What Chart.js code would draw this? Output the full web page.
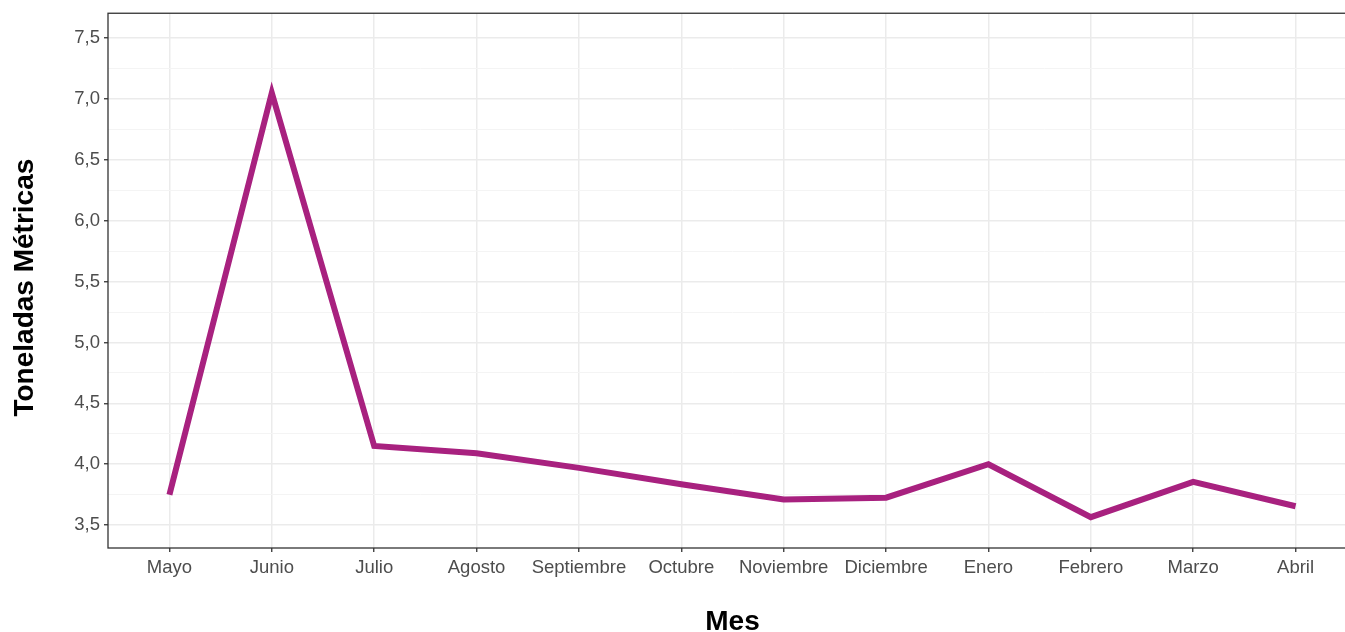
<!DOCTYPE html>
<html>
<head>
<meta charset="utf-8">
<script src="https://cdn.jsdelivr.net/npm/chart.js@4.4.1/dist/chart.umd.min.js"></script>
<style>
  html, body { margin: 0; padding: 0; background: #fff; overflow: hidden; width: 1345px; height: 632px; }
  #wrap { position: absolute; left: 0; top: 0; width: 1358px; height: 632px; }
</style>
</head>
<body>
<div id="wrap"><canvas id="c"></canvas></div>
<script>
const categories = ["Mayo", "Junio", "Julio", "Agosto", "Septiembre", "Octubre", "Noviembre", "Diciembre", "Enero", "Febrero", "Marzo", "Abril"];
const toneladas = [3.75, 7.05, 4.15, 4.09, 3.97, 3.835, 3.71, 3.725, 4.0, 3.565, 3.855, 3.655];
const yTicks = [3.5, 3.75, 4.0, 4.25, 4.5, 4.75, 5.0, 5.25, 5.5, 5.75, 6.0, 6.25, 6.5, 6.75, 7.0, 7.25, 7.5];
const xTitle = "Mes";
const yTitle = "Toneladas Métricas";

const isMajor = v => Math.abs(v * 2 - Math.round(v * 2)) < 1e-6;

const panelPlugin = {
  id: 'panel',
  afterDraw(chart) {
    const { ctx, chartArea: a } = chart;
    ctx.save();
    ctx.strokeStyle = '#333333';
    ctx.lineWidth = 1.3;
    ctx.strokeRect(a.left, a.top, a.right - a.left, a.bottom - a.top);
    ctx.fillStyle = '#000000';
    ctx.font = 'bold 28px "Liberation Sans", Arial, sans-serif';
    ctx.textAlign = 'center';
    ctx.textBaseline = 'alphabetic';
    ctx.fillText(xTitle, (a.left + a.right) / 2, 630);
    ctx.translate(33, (a.top + a.bottom) / 2 + 7);
    ctx.rotate(-Math.PI / 2);
    ctx.fillText(yTitle, 0, 0);
    ctx.restore();
  }
};

new Chart(document.getElementById('c'), {
  type: 'line',
  data: {
    datasets: [{
      data: toneladas.map((v, i) => ({ x: i, y: v })),
      borderColor: '#A8217F',
      borderWidth: 6,
      pointRadius: 0,
      tension: 0,
      fill: false,
      borderCapStyle: 'butt',
      borderJoinStyle: 'miter'
    }]
  },
  options: {
    responsive: true,
    maintainAspectRatio: false,
    animation: false,
    devicePixelRatio: 1,
    layout: { padding: { left: 0, top: 11, right: 1, bottom: 0 } },
    plugins: { legend: { display: false }, tooltip: { enabled: false }, title: { display: false } },
    scales: {
      x: {
        type: 'linear',
        min: -0.6,
        max: categories.length - 1 + 0.6,
        afterBuildTicks: s => { s.ticks = categories.map((_, i) => ({ value: i })); },
        afterFit: s => { s.height = 84; },
        ticks: {
          callback: v => categories[v],
          color: '#4D4D4D',
          font: { family: '"Liberation Sans", Arial, sans-serif', size: 18.5 },
          padding: 5,
          maxRotation: 0,
          autoSkip: false
        },
        grid: { color: '#EBEBEB', lineWidth: 1.5, tickColor: '#333333', tickLength: 4, tickWidth: 1.3 },
        border: { display: false }
      },
      y: {
        type: 'linear',
        min: 3.312,
        max: 7.704,
        afterBuildTicks: s => { s.ticks = yTicks.map(v => ({ value: v })); },
        afterFit: s => { s.width = 108; },
        ticks: {
          callback: v => isMajor(v) ? v.toFixed(1).replace('.', ',') : '',
          color: '#4D4D4D',
          font: { family: '"Liberation Sans", Arial, sans-serif', size: 18.5, lineHeight: 1 },
          padding: 4,
          autoSkip: false
        },
        grid: {
          color: ctx => isMajor(ctx.tick.value) ? '#EBEBEB' : '#F4F4F4',
          lineWidth: ctx => isMajor(ctx.tick.value) ? 1.5 : 1,
          tickColor: ctx => isMajor(ctx.tick.value) ? '#333333' : 'rgba(0,0,0,0)',
          tickLength: 4,
          tickWidth: 1.3
        },
        border: { display: false }
      }
    }
  },
  plugins: [panelPlugin]
});
</script>
</body>
</html>
